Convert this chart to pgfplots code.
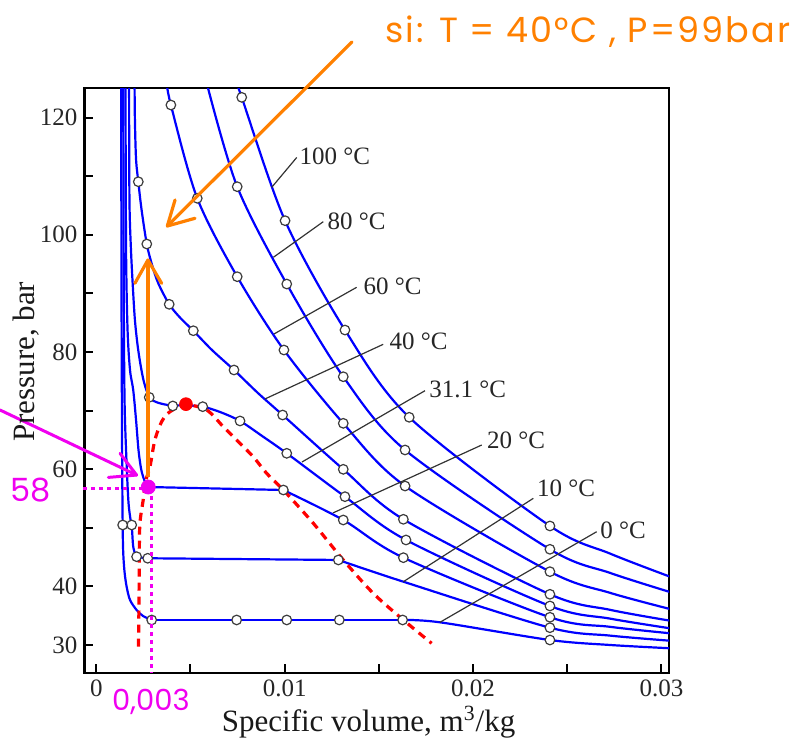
\documentclass[border=0pt]{standalone}
\usepackage{fontspec}
\setmainfont{Liberation Serif}
\newfontfamily\handfont{Poppins}
\newfontfamily\handfontw{Poppins}[LetterSpace=6]
\usepackage{pgfplots}
\pgfplotsset{compat=1.18}
\definecolor{iso}{RGB}{0,0,255}
\definecolor{orng}{RGB}{255,128,0}
\definecolor{mag}{RGB}{240,0,240}
\definecolor{leader}{RGB}{51,51,51}
\definecolor{circ}{RGB}{60,60,60}
\begin{document}
\begin{tikzpicture}
\begin{axis}[
  at={(0,0)}, anchor=south west,
  scale only axis, width=292.25bp, height=292.2bp,
  xmin=-0.000626, xmax=0.0304, ymin=25.27, ymax=125.0,
  clip mode=individual,
  scaled x ticks=false, scaled y ticks=false,
  axis line style={line width=1.1bp, black},
  xtick={0,0.01,0.02,0.03}, xticklabels={0,0.01,0.02,0.03},
  minor xtick={0.005,0.015,0.025},
  ytick={30,40,60,80,100,120}, yticklabels={30,40,60,80,100,120},
  minor ytick={50,70,90,110},
  xtick pos=left, ytick pos=left,
  tick align=inside,
  major tick length=4.5bp, minor tick length=4.5bp,
  every tick/.style={black, line width=1bp},
  tick label style={font=\fontsize{12.5bp}{15bp}\selectfont, text=black!85},
  xlabel={Specific volume, m\textsuperscript{3}/kg},
  ylabel={Pressure, bar},
  label style={font=\fontsize{15.5bp}{18bp}\selectfont, text=black!90},
  xlabel style={at={(axis description cs:0.486,-0.0998)}, anchor=base},
  ylabel style={at={(axis description cs:-0.0847,0.532)}, anchor=base},
  iso/.style={color=iso, line width=1.1bp, smooth},
  flat/.style={color=iso, line width=1.1bp},
  circ/.style={only marks, mark=*, mark size=2.4bp, mark options={fill=white, draw=circ, line width=0.6bp}},
]
% ---- 0 C
\addplot[iso] coordinates {(0.00132,126.4) (0.00134,88.9) (0.00137,63.3) (0.00140,50.48) (0.00143,45.70) (0.00150,42.46) (0.00161,39.95) (0.00179,37.68) (0.00214,35.97) (0.00248,34.95) (0.00294,34.27)};
\addplot[flat] coordinates {(0.00294,34.27) (0.01626,34.27)};
\addplot[iso] coordinates {(0.01626,34.27) (0.01824,33.87) (0.02408,30.85) (0.02727,30.0) (0.03045,29.44)};
% ---- 10 C
\addplot[iso] coordinates {(0.00143,126.4) (0.00146,88.9) (0.00150,71.8) (0.00158,63.28) (0.00170,54.74) (0.00182,51.33) (0.00188,50.48) (0.00195,47.06) (0.00203,45.87) (0.00214,45.07) (0.00273,44.80)};
\addplot[flat] coordinates {(0.00273,44.80) (0.01285,44.51)};
\addplot[iso] coordinates {(0.01285,44.51) (0.0163,40.80) (0.02408,32.95) (0.02727,31.6) (0.03045,30.73)};
% ---- 20 C
\addplot[iso] coordinates {(0.00155,126.4) (0.00158,97.5) (0.00166,83.75) (0.00179,76.93) (0.00196,73.52) (0.00211,68.4) (0.00224,63.28) (0.00237,60.2) (0.00249,58.67) (0.00264,57.47) (0.00276,56.96)};
\addplot[flat] coordinates {(0.00276,56.96) (0.00993,56.45)};
\addplot[iso] coordinates {(0.00993,56.45) (0.01311,51.33) (0.0163,44.90) (0.02408,34.73) (0.02727,33.1) (0.03045,32.0)};
% ---- 31.1 C
\addplot[iso] coordinates {(0.00174,126.4) (0.00176,106.0) (0.00184,97.5) (0.00195,90.58) (0.00205,85.46) (0.00219,81.19) (0.00235,77.78) (0.00253,74.88) (0.00281,72.27) (0.00317,71.47) (0.00365,71.04) (0.00406,70.87) (0.00471,70.9) (0.00565,70.67) (0.00657,69.76) (0.00763,68.23) (0.0088,65.67) (0.01011,62.71) (0.0132,55.31) (0.01644,47.92) (0.02408,36.66) (0.02727,34.5) (0.03045,32.85)};
% ---- 40 C
\addplot[iso] coordinates {(0.00203,126.4) (0.00205,119.6) (0.00211,112.9) (0.00223,109.06) (0.0024,104.36) (0.00268,98.43) (0.00296,94.85) (0.00329,91.72) (0.00387,88.14) (0.00444,85.89) (0.00515,83.63) (0.00614,80.34) (0.00731,76.93) (0.00858,73.0) (0.00989,69.25) (0.01311,59.98) (0.0163,51.45) (0.02408,38.65) (0.02727,36.0) (0.03045,34.15)};
% ---- 60 C
\addplot[iso] coordinates {(0.00372,126.4) (0.00396,122.15) (0.00536,106.23) (0.00748,92.85) (0.00996,80.34) (0.01311,67.83) (0.01639,57.13) (0.02408,42.51) (0.02727,38.9) (0.03045,36.14)};
% ---- 80 C
\addplot[iso] coordinates {(0.00582,126.4) (0.00748,108.21) (0.01011,91.6) (0.01311,75.78) (0.01639,63.28) (0.02408,46.33) (0.02727,42.3) (0.03045,39.04)};
% ---- 100 C
\addplot[iso] coordinates {(0.0074,126.4) (0.00772,123.46) (0.01002,102.41) (0.0132,83.75) (0.01661,68.86) (0.02408,50.31) (0.02727,45.6) (0.03045,41.66)};
% ---- saturation dome
\addplot[red, line width=1.6bp, dash pattern=on 4bp off 3bp, smooth] coordinates {(0.00224,29.71) (0.00227,38.5) (0.00229,47.92) (0.00233,51.3) (0.00249,54.74) (0.00264,58.16) (0.00285,60.43) (0.00311,64.98) (0.00347,68.11) (0.00391,69.81) (0.00476,70.96) (0.00586,70.10) (0.00674,67.25) (0.00745,64.98) (0.00833,62.13) (0.00904,59.30) (0.00993,56.45) (0.01152,50.77) (0.01311,44.51) (0.0147,38.82) (0.0163,34.27) (0.0178,30.29)};
% ---- data circles
\addplot[circ] coordinates {(0.00772,123.46) (0.01002,102.41) (0.0132,83.75) (0.01661,68.86) (0.02408,50.31)};
\addplot[circ] coordinates {(0.00748,108.21) (0.01011,91.6) (0.01311,75.78) (0.01639,63.28) (0.02408,46.33)};
\addplot[circ] coordinates {(0.00396,122.15) (0.00536,106.23) (0.00748,92.85) (0.00996,80.34) (0.01311,67.83) (0.01639,57.13) (0.02408,42.51)};
\addplot[circ] coordinates {(0.00223,109.06) (0.00268,98.43) (0.00387,88.14) (0.00515,83.63) (0.00731,76.93) (0.00989,69.25) (0.01311,59.98) (0.0163,51.45) (0.02408,38.65)};
\addplot[circ] coordinates {(0.00281,72.27) (0.00406,70.79) (0.00565,70.67) (0.00763,68.23) (0.01011,62.71) (0.0132,55.31) (0.01644,47.92) (0.02408,36.66)};
\addplot[circ] coordinates {(0.00276,56.96) (0.00993,56.45) (0.01311,51.33) (0.0163,44.90) (0.02408,34.73)};
\addplot[circ] coordinates {(0.00188,50.48) (0.00214,45.07) (0.00273,44.80) (0.01285,44.51) (0.02408,32.95)};
\addplot[circ] coordinates {(0.0014,50.48) (0.00294,34.27) (0.00745,34.27) (0.01011,34.27) (0.0129,34.27) (0.01626,34.27) (0.02408,30.85)};
% ---- critical point
\addplot[only marks, mark=*, mark size=3.2bp, red] coordinates {(0.00476,71.1)};
% ---- leader lines and labels
\draw[leader, line width=0.6bp] (axis cs:0.00931,108.1) -- (axis cs:0.01064,113.2);
\draw[leader, line width=0.6bp] (axis cs:0.0094,96.16) -- (axis cs:0.01205,102.24);
\draw[leader, line width=0.6bp] (axis cs:0.00943,83.07) -- (axis cs:0.01382,91.04);
\draw[leader, line width=0.6bp] (axis cs:0.00895,71.98) -- (axis cs:0.01523,81.31);
\draw[leader, line width=0.6bp] (axis cs:0.01092,61.23) -- (axis cs:0.01745,73.4);
\draw[leader, line width=0.6bp] (axis cs:0.01256,52.53) -- (axis cs:0.02046,64.13);
\draw[leader, line width=0.6bp] (axis cs:0.0163,40.8) -- (axis cs:0.0232,55.03);
\draw[leader, line width=0.6bp] (axis cs:0.01824,33.87) -- (axis cs:0.02656,49.33);
\begin{scope}[every node/.style={anchor=west, inner sep=0pt, font=\fontsize{12.5bp}{15bp}\selectfont, text=black!85}]
\node at (axis cs:0.01077,113.45) {100 °C};
\node at (axis cs:0.01226,102.24) {80 °C};
\node at (axis cs:0.01417,91.26) {60 °C};
\node at (axis cs:0.01555,81.76) {40 °C};
\node at (axis cs:0.01766,73.6) {31.1 °C};
\node at (axis cs:0.02072,64.98) {20 °C};
\node at (axis cs:0.02338,56.74) {10 °C};
\node at (axis cs:0.02674,49.62) {0 °C};
\end{scope}
% ---- orange annotations
\draw[orng, line width=1.6bp, line cap=round] (axis cs:0.01357,132.9) -- (axis cs:0.00377,101.5);
\draw[orng, line width=1.6bp, line cap=round, line join=round] (axis cs:0.00524,102.82) -- (axis cs:0.00377,101.5) -- (axis cs:0.00418,105.94);
\draw[orng, line width=1.6bp] (axis cs:0.00274,58.67) -- (axis cs:0.00274,95.7);
\draw[orng, line width=1.6bp, line cap=round, line join=round] (axis cs:0.00205,91.72) -- (axis cs:0.00274,95.7) -- (axis cs:0.00347,91.72);
\node[orng, anchor=base west, inner sep=0pt, font=\handfontw\fontsize{17.5bp}{20bp}\selectfont] at (axis cs:0.01532,132.9) {si: T = 40°C , P=99bar};
% ---- magenta annotations
\draw[mag, line width=1.5bp, dash pattern=on 2bp off 2bp] (axis cs:-0.0007,56.79) -- (axis cs:0.00276,56.79);
\draw[mag, line width=1.5bp, dash pattern=on 2bp off 2bp] (axis cs:0.00293,56.79) -- (axis cs:0.00293,25.27);
\draw[mag, line width=1.5bp, line cap=round] (axis cs:-0.00511,70.1) -- (axis cs:0.00214,59.0);
\draw[mag, line width=1.5bp, line cap=round, line join=round] (axis cs:0.00064,58.6) -- (axis cs:0.00214,59.0) -- (axis cs:0.00126,62.7);
\addplot[only marks, mark=*, mark size=3.5bp, mag] coordinates {(0.00276,56.96)};
\node[mag, inner sep=0pt, font=\handfont\fontsize{16bp}{18bp}\selectfont] at (axis cs:-0.00347,56.45) {58};
\node[mag, inner sep=0pt, font=\handfont\fontsize{14.5bp}{17bp}\selectfont] at (axis cs:0.0029,20.27) {0,003};
\end{axis}
\pgfresetboundingbox
\path (-42.25bp,-35.15bp) rectangle (362.25bp,336.35bp);
\end{tikzpicture}
\end{document}
